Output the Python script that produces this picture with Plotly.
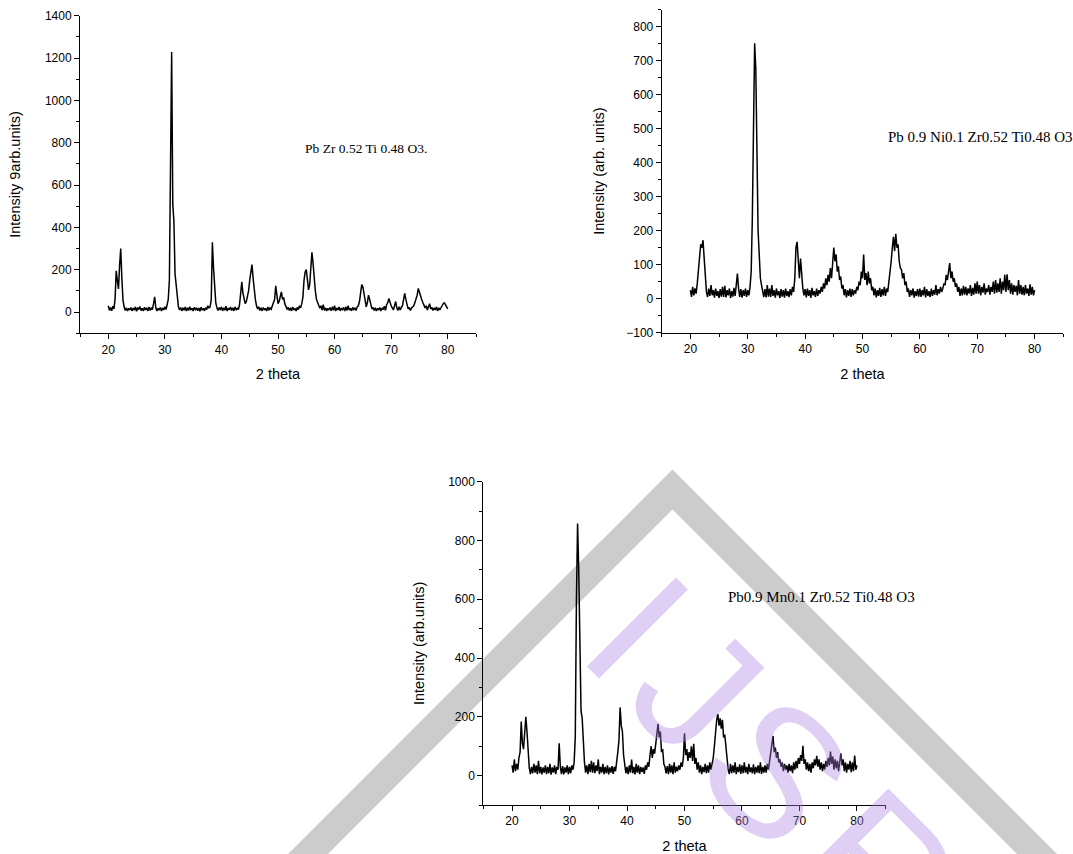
import numpy as np
import plotly.graph_objects as go

# ---------------- data ----------------
two_theta = np.round(np.linspace(20.0, 80.0, 301), 1)   # 0.2 deg sampling grid

pzt_intensity = [
    30, 8, 22, 6, 28, 15, 60, 195, 150, 110,
    220, 300, 160, 55, 25, 8, 20, 5, 18, 10,
    22, 6, 19, 9, 25, 4, 21, 12, 26, 7,
    18, 5, 23, 10, 20, 6, 24, 8, 19, 12,
    40, 72, 20, 6, 18, 9, 22, 5, 20, 10,
    25, 12, 35, 60, 150, 700, 1228, 510, 430, 180,
    120, 50, 25, 10, 22, 6, 20, 9, 24, 5,
    21, 8, 26, 10, 18, 5, 22, 12, 20, 7,
    19, 4, 23, 9, 18, 6, 21, 12, 30, 20,
    25, 60, 330, 210, 130, 45, 20, 8, 22, 10,
    25, 6, 20, 9, 28, 5, 19, 11, 24, 8,
    20, 6, 25, 10, 18, 12, 35, 80, 143, 90,
    70, 40, 50, 70, 100, 150, 200, 225, 160, 100,
    60, 30, 15, 25, 8, 20, 6, 22, 10, 18,
    5, 24, 9, 20, 14, 30, 45, 60, 124, 70,
    40, 50, 75, 96, 60, 70, 40, 30, 15, 22,
    8, 20, 6, 24, 10, 18, 5, 22, 12, 30,
    20, 40, 70, 150, 190, 201, 150, 105, 130, 200,
    282, 230, 150, 100, 60, 45, 30, 18, 30, 10,
    35, 8, 20, 5, 18, 10, 22, 6, 25, 9,
    30, 5, 20, 10, 24, 6, 19, 12, 22, 5,
    25, 8, 30, 10, 18, 6, 22, 12, 20, 8,
    25, 30, 50, 90, 130, 120, 80, 40, 25, 45,
    80, 60, 30, 15, 22, 8, 20, 6, 18, 10,
    22, 5, 20, 12, 28, 8, 35, 45, 64, 40,
    30, 20, 10, 30, 50, 20, 8, 25, 10, 22,
    30, 60, 88, 60, 30, 15, 22, 8, 20, 25,
    30, 45, 60, 80, 112, 90, 80, 60, 45, 30,
    20, 30, 10, 25, 40, 15, 22, 8, 20, 10,
    24, 6, 20, 10, 25, 30, 40, 44, 35, 20,
    15,
]

ni_intensity = [
    25, 5, 35, 10, 30, 15, 45, 90, 130, 160,
    150, 172, 120, 70, 20, 5, 30, 8, 40, 10,
    25, 3, 30, 8, 22, 2, 28, 6, 35, 5,
    38, 4, 25, 10, 30, 2, 22, 6, 32, 8,
    45, 74, 30, 5, 28, 3, 25, 8, 30, 5,
    25, 10, 35, 80, 240, 560, 751, 677, 390, 200,
    130, 60, 40, 15, 5, 28, 4, 40, 6, 30,
    5, 40, 8, 25, 3, 30, 10, 22, 2, 28,
    6, 25, 3, 30, 8, 22, 5, 28, 10, 35,
    20, 60, 150, 167, 90, 60, 118, 70, 30, 10,
    28, 4, 30, 8, 25, 2, 32, 10, 22, 5,
    30, 8, 25, 15, 35, 20, 45, 30, 60, 40,
    70, 50, 90, 60, 120, 150, 110, 130, 80, 95,
    55, 65, 30, 40, 10, 28, 4, 25, 8, 30,
    5, 28, 10, 25, 15, 35, 25, 50, 40, 80,
    60, 130, 55, 75, 40, 80, 45, 60, 25, 35,
    10, 30, 4, 25, 8, 32, 5, 28, 10, 35,
    8, 30, 20, 45, 70, 110, 150, 182, 140, 191,
    150, 160, 110, 90, 85, 60, 75, 40, 50, 20,
    30, 5, 25, 10, 30, 3, 22, 8, 28, 6,
    30, 5, 25, 10, 35, 4, 28, 8, 22, 5,
    30, 8, 25, 12, 40, 10, 28, 15, 35, 20,
    30, 45, 40, 70, 55, 85, 105, 60, 80, 50,
    60, 35, 45, 20, 35, 8, 30, 10, 38, 12,
    35, 10, 30, 15, 40, 8, 32, 12, 45, 15,
    50, 15, 40, 10, 35, 18, 45, 12, 30, 20,
    40, 12, 35, 20, 50, 15, 55, 18, 45, 20,
    60, 15, 50, 25, 70, 20, 72, 25, 55, 15,
    45, 12, 40, 20, 38, 10, 55, 15, 40, 12,
    35, 10, 40, 15, 30, 8, 42, 12, 35, 10,
    25,
]

mn_intensity = [
    35, 10, 55, 15, 40, 20, 60, 80, 184, 110,
    90, 150, 200, 150, 60, 25, 5, 30, 8, 40,
    10, 35, 5, 50, 8, 30, 4, 28, 10, 35,
    5, 30, 8, 40, 3, 28, 10, 35, 5, 30,
    20, 110, 30, 5, 32, 4, 28, 10, 35, 5,
    30, 8, 35, 20, 45, 130, 600, 858, 700, 480,
    220, 195, 90, 45, 10, 35, 5, 40, 12, 50,
    10, 45, 8, 35, 15, 55, 5, 30, 10, 40,
    5, 30, 8, 35, 4, 28, 10, 32, 6, 30,
    15, 40, 80, 120, 232, 170, 150, 70, 30, 8,
    30, 5, 35, 10, 55, 8, 30, 4, 40, 10,
    35, 5, 30, 12, 28, 6, 35, 20, 45, 30,
    70, 100, 60, 90, 75, 110, 130, 176, 130, 150,
    80, 90, 40, 30, 8, 32, 5, 40, 10, 35,
    5, 45, 10, 30, 15, 35, 20, 45, 30, 60,
    144, 70, 90, 50, 80, 60, 100, 50, 108, 40,
    60, 20, 45, 10, 35, 5, 30, 12, 40, 8,
    35, 10, 45, 20, 40, 60, 100, 150, 190, 209,
    170, 195, 160, 190, 130, 140, 90, 40, 20, 5,
    40, 8, 35, 10, 45, 5, 30, 12, 38, 6,
    35, 8, 45, 10, 30, 5, 40, 12, 28, 8,
    38, 5, 30, 10, 35, 8, 45, 6, 30, 10,
    35, 10, 40, 20, 50, 70, 100, 135, 80, 95,
    60, 80, 45, 55, 30, 45, 15, 40, 20, 35,
    10, 40, 15, 35, 8, 45, 20, 50, 25, 60,
    40, 70, 50, 101, 40, 55, 20, 45, 15, 40,
    10, 45, 25, 55, 35, 67, 30, 55, 20, 45,
    15, 40, 20, 50, 30, 60, 35, 82, 40, 65,
    20, 55, 25, 50, 15, 60, 76, 35, 55, 15,
    45, 10, 40, 20, 50, 12, 45, 15, 68, 20,
    35,
]

panel_labels = [
    "Pb Zr 0.52 Ti 0.48 O3.",
    "Pb 0.9 Ni0.1 Zr0.52 Ti0.48 O3",
    "Pb0.9 Mn0.1 Zr0.52 Ti0.48 O3",
]
y_titles = ["Intensity 9arb.units)", "Intensity (arb. units)", "Intensity (arb.units)"]
x_title = "2 theta"
watermark_letters = ["I", "J", "S", "R"]

assert len(pzt_intensity) == len(ni_intensity) == len(mn_intensity) == len(two_theta)

# ---------------- layout helpers ----------------
W, H = 1073, 854
def px(x):
    return x / W
def py(y):
    return 1 - y / H

SANS = "Liberation Sans, Arial, sans-serif"
SERIF = "Liberation Serif, Times New Roman, serif"

fig = go.Figure()
series = [pzt_intensity, ni_intensity, mn_intensity]
for i, yv in enumerate(series):
    sfx = "" if i == 0 else str(i + 1)
    fig.add_trace(go.Scatter(
        x=two_theta, y=yv, mode="lines",
        line=dict(color="black", width=1.5),
        xaxis="x" + sfx, yaxis="y" + sfx, showlegend=False,
        hoverinfo="x+y",
    ))

def xaxis(domain, anchor):
    return dict(
        domain=domain, anchor=anchor, range=[15, 85], dtick=10, tick0=0,
        showline=True, linecolor="black", linewidth=1, mirror=False,
        ticks="outside", ticklen=5, tickwidth=1, tickcolor="black",
        minor=dict(ticks="outside", ticklen=3, tickcolor="black", dtick=5, tick0=0),
        showgrid=False, zeroline=False,
        tickfont=dict(family=SANS, size=12, color="black"),
        title=dict(text=x_title, font=dict(family=SANS, size=14.5, color="black"), standoff=13),
        automargin=False,
    )

def yaxis(domain, anchor, rng, dtick, minor, title, standoff):
    return dict(
        domain=domain, anchor=anchor, range=rng, dtick=dtick, tick0=0,
        showline=True, linecolor="black", linewidth=1, mirror=False,
        ticks="outside", ticklen=5, tickwidth=1, tickcolor="black",
        minor=dict(ticks="outside", ticklen=3, tickcolor="black", dtick=minor, tick0=0),
        showgrid=False, zeroline=False,
        tickfont=dict(family=SANS, size=12, color="black"),
        title=dict(text=title, font=dict(family=SANS, size=14.5, color="black"), standoff=standoff),
        automargin=False,
    )

# axis rectangles in pixels (left, right, top, bottom)
p1 = (80, 476, 15.7, 333.3)
p2 = (661.7, 1063.3, 9.6, 332.7)
p3 = (483.3, 885.7, 481.7, 805)

def dom(p):
    return [px(p[0]), px(p[1])], [py(p[3]), py(p[2])]

d1x, d1y = dom(p1)
d2x, d2y = dom(p2)
d3x, d3y = dom(p3)

# watermark chevron (decoration, drawn below the plots)
chev = [(288, 854), (672.5, 469.5), (1057, 854), (1017, 854), (672.5, 509.5), (328, 854)]
path = "M " + " L ".join(f"{px(a):.5f},{py(b):.5f}" for a, b in chev) + " Z"

# watermark letter centres (pixels)
wm_pos = [(638, 627), (698, 689), (777, 771), (880, 869)]

annotations = [
    dict(text=panel_labels[0], x=px(302.7), y=py(148.3), xref="paper", yref="paper",
         xanchor="left", yanchor="middle", showarrow=False,
         font=dict(family=SERIF, size=13.5, color="black")),
    dict(text=panel_labels[1], x=px(885.7), y=py(137.3), xref="paper", yref="paper",
         xanchor="left", yanchor="middle", showarrow=False,
         font=dict(family=SERIF, size=15, color="black")),
    dict(text=panel_labels[2], x=px(725.7), y=py(597.3), xref="paper", yref="paper",
         xanchor="left", yanchor="middle", showarrow=False,
         font=dict(family=SERIF, size=15, color="black")),
]
for letter, (lx, ly) in zip(watermark_letters, wm_pos):
    annotations.append(dict(
        text=letter, x=px(lx), y=py(ly), xref="paper", yref="paper",
        xanchor="center", yanchor="middle", showarrow=False, textangle=45,
        font=dict(family=SANS, size=183, color="rgba(170,130,225,0.38)"),
    ))

fig.update_layout(
    width=W, height=H,
    margin=dict(l=0, r=0, t=0, b=0),
    paper_bgcolor="white", plot_bgcolor="rgba(0,0,0,0)",
    showlegend=False,
    xaxis=xaxis(d1x, "y"),
    yaxis=yaxis(d1y, "x", [-100, 1400], 200, 100, y_titles[0], 20),
    xaxis2=xaxis(d2x, "y2"),
    yaxis2=yaxis(d2y, "x2", [-100, 850], 100, 50, y_titles[1], 18),
    xaxis3=xaxis(d3x, "y3"),
    yaxis3=yaxis(d3y, "x3", [-100, 1000], 200, 100, y_titles[2], 20),
    shapes=[dict(type="path", path=path, xref="paper", yref="paper",
                 fillcolor="#cccccc", line=dict(width=0), layer="below")],
    annotations=annotations,
)

fig.write_html(
    "out.html",
    config={"displayModeBar": False},
    post_script="document.body.style.margin='0';"
                "document.documentElement.style.overflow='hidden';",
)
